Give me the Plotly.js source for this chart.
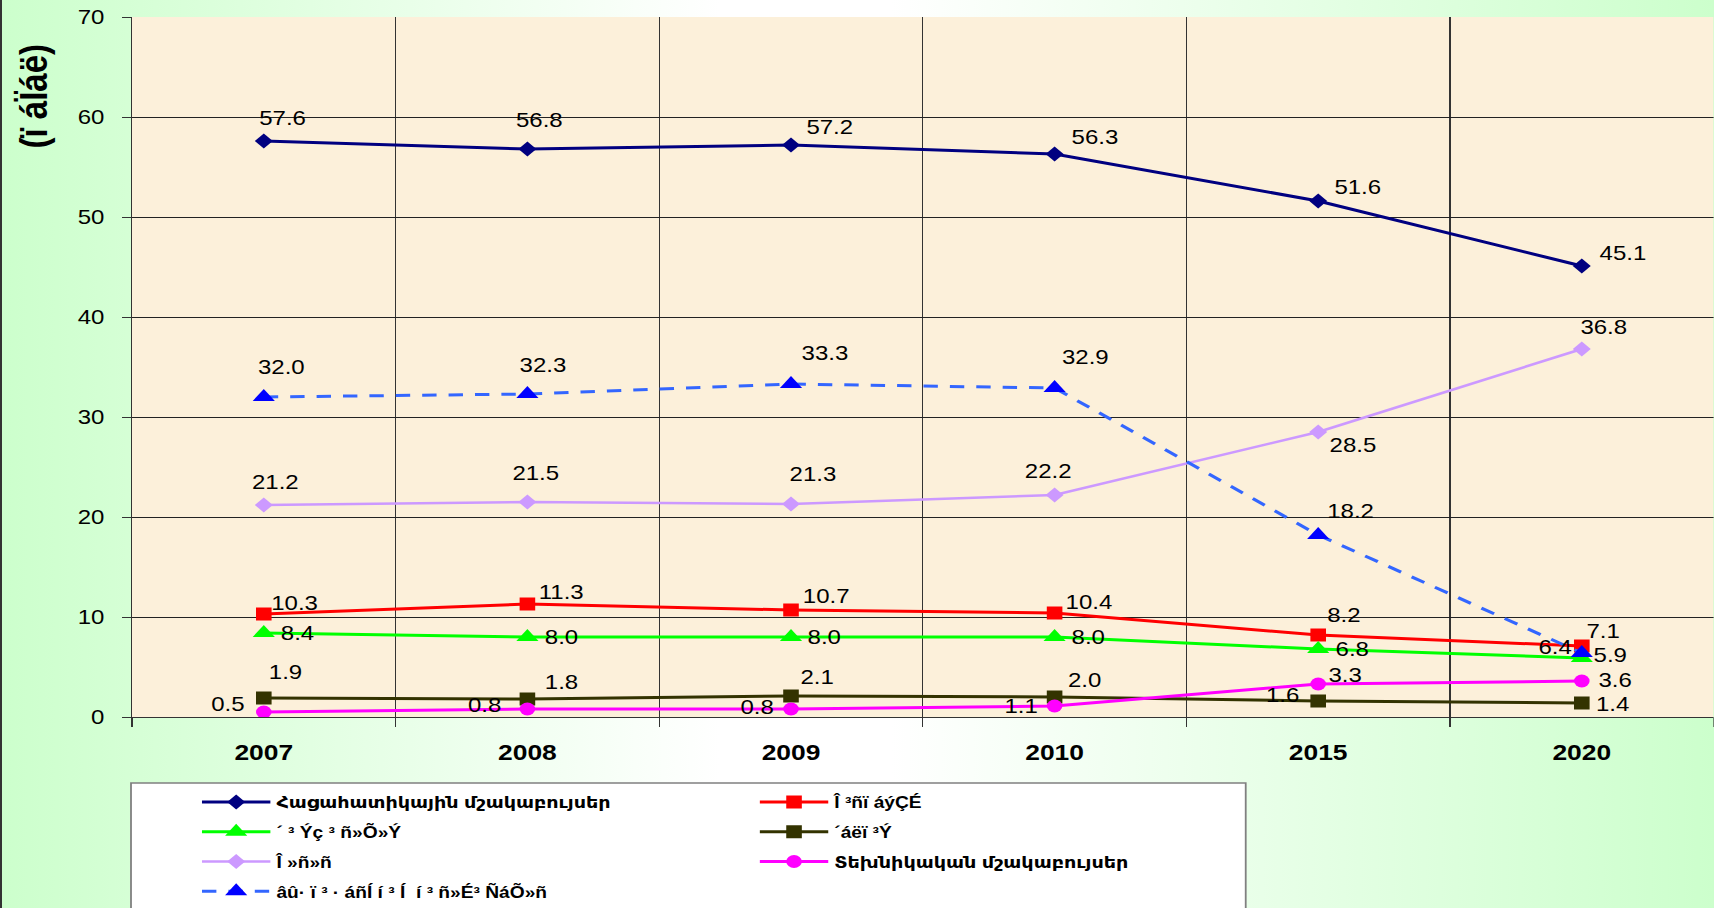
<!DOCTYPE html>
<html>
<head>
<meta charset="utf-8">
<script src="https://cdn.plot.ly/plotly-3.0.1.min.js"></script>
<style>
  html, body { margin:0; padding:0; overflow:hidden; width:1714px; height:908px; }
  body { background: linear-gradient(90deg, #ccffcc 0%, #ffffff 42%, #ffffff 52%, #ccffcc 100%); position:relative; }
  #edge { position:absolute; left:0; top:0; width:2px; height:908px; background:#333; z-index:5; }
  #chart { position:absolute; left:0; top:0; transform-origin:0 0; }
</style>
</head>
<body>
<div id="edge"></div>
<div id="chart"></div>
<script>
// ---- data ----
const years = ['2007', '2008', '2009', '2010', '2015', '2020'];
const grain      = [57.6, 56.8, 57.2, 56.3, 51.6, 45.1];
const potato     = [10.3, 11.3, 10.7, 10.4, 8.2, 7.1];
const vegetables = [8.4, 8.0, 8.0, 8.0, 6.8, 5.9];
const melons     = [1.9, 1.8, 2.1, 2.0, 1.6, 1.4];
const fodder     = [21.2, 21.5, 21.3, 22.2, 28.5, 36.8];
const technical  = [0.5, 0.8, 0.8, 1.1, 3.3, 3.6];
const unused     = [32.0, 32.3, 33.3, 32.9, 18.2, 6.4];

const names = {
  grain: 'Հացահատիկային մշակաբույսեր',
  potato: 'Î ³ñï áýÇÉ',
  vegetables: '´ ³ Ýç ³ ñ»Õ»Ý',
  melons: '´áëï ³Ý',
  fodder: 'Î »ñ»ñ',
  technical: 'Տեխնիկական մշակաբույսեր',
  unused: 'âû· ï ³ · áñÍ í ³ Í  í ³ ñ»É³ ÑáÕ»ñ'
};
const yTitle = '(ï áÏáë)';

// label offsets (screen px, dx right, dy down) for data labels
const labelOffsets = {
  grain:      [[19,-23],[12,-29],[39,-18],[40,-17],[39,-14],[41,-13]],
  potato:     [[31,-11],[34,-12],[35,-14],[35,-11],[26,-20],[21,-15]],
  vegetables: [[34,0],[34,0],[33,0],[34,0],[34,0],[28,-3]],
  melons:     [[22,-26],[34,-17],[26,-19],[30,-17],[-35,-6],[31,1]],
  fodder:     [[12,-23],[8,-29],[22,-30],[-6,-24],[35,13],[22,-22]],
  technical:  [[-36,-8],[-43,-4],[-34,-2],[-33,0],[27,-9],[33,-1]],
  unused:     [[18,-30],[15,-29],[34,-31],[31,-31],[32,-24],[-27,-6]]
};

// ---- geometry ----
const W = 1714, H = 908;
const S = 1.2;                 // horizontal stretch of the original picture
const PW = W / S;              // plotly width before stretch
const ML = 132 / S, MT = 17, MB = 191;
const plotW = PW - ML, plotH = H - MT - MB;
const px2paperX = p => (p / S - ML) / plotW;
const px2paperY = p => (H - MB - p) / plotH;

const styles = {
  grain:      {line:{color:'#000080', width:3}, marker:{symbol:'diamond', size:11.5, color:'#000080'}, legend:'legend'},
  potato:     {line:{color:'#ff0000', width:3}, marker:{symbol:'square', size:13, color:'#ff0000'}, legend:'legend2'},
  vegetables: {line:{color:'#00ff00', width:3}, marker:{symbol:'triangle-up', size:16, color:'#00ff00'}, legend:'legend'},
  melons:     {line:{color:'#333300', width:3}, marker:{symbol:'square', size:13, color:'#333300'}, legend:'legend2'},
  fodder:     {line:{color:'#cc99ff', width:2.5}, marker:{symbol:'diamond', size:11.5, color:'#cc99ff'}, legend:'legend'},
  technical:  {line:{color:'#ff00ff', width:3}, marker:{symbol:'circle', size:13, color:'#ff00ff'}, legend:'legend2'},
  unused:     {line:{color:'#3366ff', width:3, dash:'12px,10px'}, marker:{symbol:'triangle-up', size:16, color:'#0000ff'}, legend:'legend'}
};
const series = {grain, potato, vegetables, melons, fodder, technical, unused};
const drawOrder = ['grain','potato','vegetables','melons','fodder','technical','unused'];

const traces = drawOrder.map(k => ({
  type:'scatter', mode:'lines+markers', x: years, y: series[k], name: names[k],
  line: styles[k].line, marker: styles[k].marker, legend: styles[k].legend,
  legendgroup: k, hoverinfo:'skip'
}));

const labelFont = {family:'Arial, "Liberation Sans", sans-serif', size:20, color:'#000'};
const annotations = [];
drawOrder.forEach(k => {
  series[k].forEach((v, i) => {
    annotations.push({
      x: i, y: v, xref:'x', yref:'y', text: v.toFixed(1), showarrow:false,
      xshift: labelOffsets[k][i][0] / S, yshift: -labelOffsets[k][i][1],
      xanchor:'center', yanchor:'middle', font: labelFont, borderpad:0
    });
  });
});
annotations.push({
  xref:'paper', yref:'paper', x: px2paperX(33), y: px2paperY(96), text: yTitle,
  textangle:-90, showarrow:false, xanchor:'center', yanchor:'middle',
  font:{family:'Arial, "Liberation Sans", sans-serif', size:33, weight:'bold', color:'#000'}
});

const legendFont = {family:'Arial, "Liberation Sans", "DejaVu Sans", sans-serif', size:16, weight:'bold', color:'#000'};
const legendCommon = {
  orientation:'v', xanchor:'left', yanchor:'top', bgcolor:'rgba(0,0,0,0)', borderwidth:0,
  font: legendFont, itemwidth:57, traceorder:'grouped', tracegroupgap:6, itemclick:false, itemdoubleclick:false
};

const layout = {
  width: PW, height: H,
  margin:{l:ML, r:0, t:MT, b:MB, pad:0, autoexpand:false},
  paper_bgcolor:'rgba(0,0,0,0)', plot_bgcolor:'#fcf0da',
  showlegend:true,
  legend: Object.assign({}, legendCommon, {x: px2paperX(196), y: px2paperY(785)}),
  legend2: Object.assign({}, legendCommon, {x: px2paperX(754), y: px2paperY(785)}),
  xaxis:{
    type:'category', range:[-0.5, 5.5], tickson:'boundaries', ticks:'outside', ticklen:9, tickcolor:'#333',
    showgrid:true, gridcolor:'#333', gridwidth:1, showline:true, linecolor:'#333', linewidth:1,
    tickfont:{family:'Arial, "Liberation Sans", sans-serif', size:22, weight:'bold', color:'#000'},
    ticklabelstandoff: 16, fixedrange:true
  },
  yaxis:{
    range:[0,70], dtick:10, ticks:'outside', ticklen:7, tickcolor:'#333',
    showgrid:true, gridcolor:'#222', gridwidth:1, showline:true, linecolor:'#333', linewidth:1, zeroline:false,
    tickfont:{family:'Arial, "Liberation Sans", sans-serif', size:20, color:'#000'},
    ticklabelstandoff: 11, fixedrange:true
  },
  shapes:[{
    type:'rect', xref:'paper', yref:'paper', layer:'below',
    x0: px2paperX(131), x1: px2paperX(1246), y0: px2paperY(783), y1: px2paperY(960),
    line:{color:'#808080', width:1.5}, fillcolor:'#ffffff'
  }],
  annotations
};

const el = document.getElementById('chart');
el.style.width = PW + 'px';
el.style.height = H + 'px';
el.style.transform = 'scaleX(' + (W / PW) + ')';
Plotly.newPlot(el, traces, layout, {staticPlot:true, displayModeBar:false});
</script>
</body>
</html>
